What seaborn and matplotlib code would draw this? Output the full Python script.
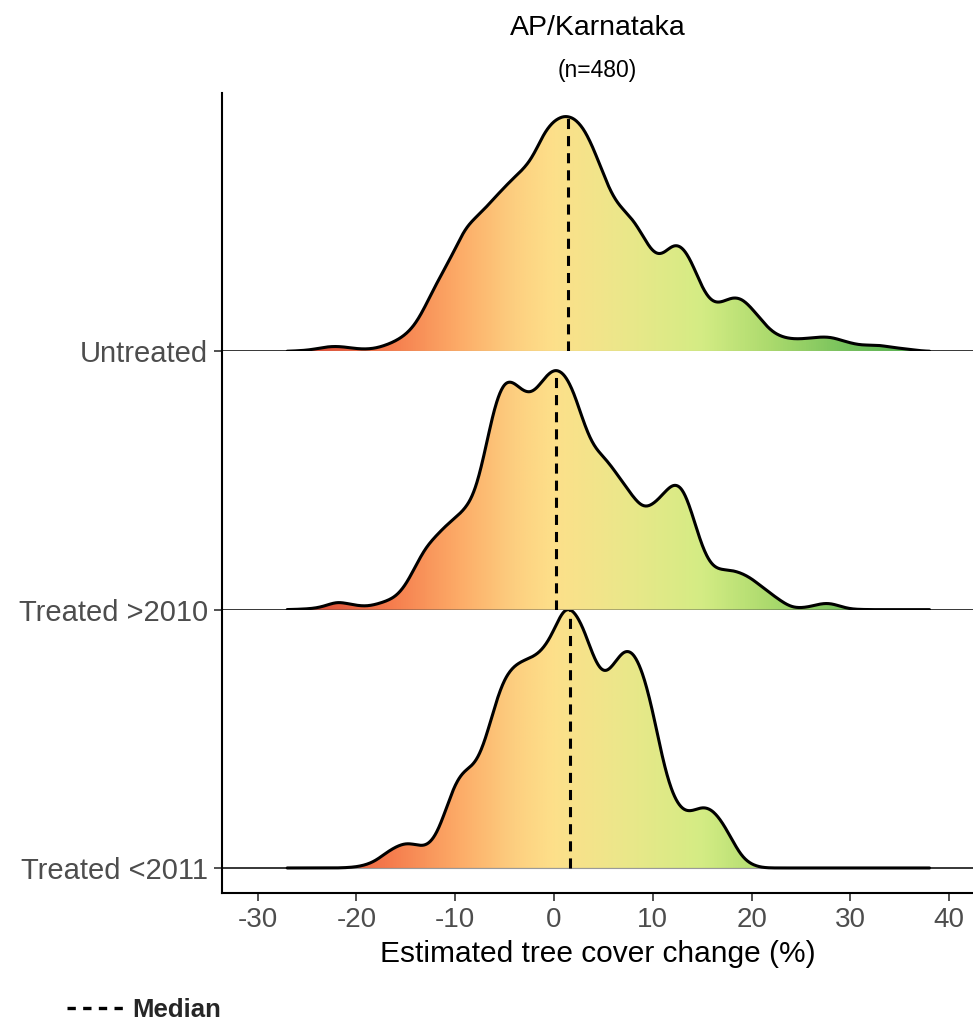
import numpy as np
import pandas as pd
import matplotlib
matplotlib.use("Agg")
import matplotlib.pyplot as plt
import seaborn as sns
from matplotlib.colors import LinearSegmentedColormap, Normalize
from matplotlib.lines import Line2D

# ---------------- data ----------------
title = "AP/Karnataka"
subtitle = "(n=480)"
x_label = "Estimated tree cover change (%)"
legend_label = "Median"

groups = ["Untreated", "Treated >2010", "Treated <2011"]

# x positions (%) at which the ridge heights were read
change_grid = list(range(-27, 39))

# relative density heights read at each x of change_grid
untreated = [
    0, 0.5, 1, 2.5, 4.5, 5, 4, 2.5, 2, 3, 6,
    10, 16, 26, 44, 64, 81, 99, 120, 129, 138, 149,
    159, 169, 177, 190, 213, 224, 229, 227, 217, 197, 171,
    148, 137, 128, 112, 94, 92, 105, 103, 86, 60, 46,
    47, 53, 52, 42, 30, 19, 14, 12, 12, 13, 14,
    14, 11, 8, 6, 6, 6, 4, 3, 2, 0.5, 0,
]
treated_after_2010 = [
    0, 0.3, 0.7, 1.5, 4, 8, 6, 4, 3, 5, 8,
    12, 23, 42, 60, 70, 80, 88, 96, 110, 150, 198,
    222, 218, 207, 207, 222, 232, 228, 210, 178, 155, 147,
    135, 121, 108, 96, 100, 110, 122, 120, 92, 58, 40,
    38, 38, 35, 30, 22, 15, 8, 2, 1.5, 3, 6,
    6.5, 3, 0.5, 0.2, 0, 0, 0, 0, 0, 0, 0,
]
treated_before_2011 = [
    0, 0, 0, 0, 0, 0, 0.3, 1, 3, 7, 15,
    21, 25, 23, 20, 29, 55, 85, 97, 100, 122, 160,
    188, 199, 204, 207, 215, 232, 258, 254, 236, 205, 187,
    198, 215, 214, 193, 155, 104, 70, 55, 55, 61, 58,
    46, 28, 10, 3, 0.3, 0, 0, 0, 0, 0, 0,
    0, 0, 0, 0, 0, 0, 0, 0, 0, 0, 0,
]
medians = [1.4, 0.2, 1.6]
x_ticks = [-30, -20, -10, 0, 10, 20, 30, 40]

densities = [untreated, treated_after_2010, treated_before_2011]

# ---------------- style ----------------
sns.set_theme(style="white")
plt.rcParams["font.family"] = ["Liberation Sans", "DejaVu Sans"]

W, H = 973, 1027
fig = plt.figure(figsize=(W / 100, H / 100), dpi=100)
pad_frac = 25 / 258
gs = fig.add_gridspec(
    3, 1, height_ratios=[1, 1, 1 + pad_frac], hspace=0,
    left=222 / W, right=1.0, top=1 - 93 / H, bottom=1 - 893 / H,
)
axes = [fig.add_subplot(gs[i, 0]) for i in range(3)]

grad_colors = [
    (-25, "#dc4a35"), (-17, "#f57a4c"), (-10, "#fca966"), (-4, "#fdcf80"),
    (0, "#fde08a"), (7, "#ebe78a"), (15, "#d4ec84"), (22, "#abda6d"),
    (30, "#74c15b"), (36, "#58b451"),
]
lo, hi = grad_colors[0][0], grad_colors[-1][0]
cmap = LinearSegmentedColormap.from_list(
    "ridge", [((v - lo) / (hi - lo), c) for v, c in grad_colors]
)
norm = Normalize(lo, hi)

curves = []
for ax, name, dens in zip(axes, groups, densities):
    df = pd.DataFrame({"change": change_grid, "density": dens})
    w = df["density"].to_numpy(float)
    xv = df["change"].to_numpy(float)
    mu = np.sum(w * xv) / w.sum()
    sd = np.sqrt(np.sum(w * (xv - mu) ** 2) / w.sum())
    sns.kdeplot(
        data=df, x="change", weights="density", bw_method=0.7 / sd,
        cut=0, gridsize=1200, color="black", linewidth=2.2, ax=ax, zorder=5,
    )
    xs, ys = ax.lines[-1].get_data()
    curves.append((np.asarray(xs), np.asarray(ys)))

ymax = max(c[1].max() for c in curves)

for i, (ax, name, med, (xs, ys)) in enumerate(zip(axes, groups, medians, curves)):
    # gradient fill clipped to the density area
    poly = ax.fill_between(xs, 0, ys, facecolor="none", edgecolor="none")
    grad = np.linspace(xs.min(), xs.max(), 800).reshape(1, -1)
    im = ax.imshow(
        grad, extent=[xs.min(), xs.max(), 0, ys.max()], origin="lower",
        cmap=cmap, norm=norm, aspect="auto", zorder=2, interpolation="bilinear",
    )
    im.set_clip_path(poly.get_paths()[0], transform=ax.transData)
    # baseline (grid line) and light edge under the fill
    ax.axhline(0, color="black", lw=1.1, zorder=1)
    ax.plot([xs.min(), xs.max()], [0, 0], color="#9a9a9a", lw=0.8, zorder=3)
    # median
    ax.vlines(med, 0, np.interp(med, xs, ys), colors="black", lw=2.2,
              linestyles=(0, (3.3, 2.3)), zorder=6)

    ax.set_xlim(-33.6, 42.4)
    bottom = -ymax * pad_frac if i == 2 else 0
    ax.set_ylim(bottom, ymax)
    ax.set_yticks([0])
    ax.set_yticklabels([name])
    ax.set_ylabel("")
    ax.set_xlabel("")
    for s in ["top", "right"]:
        ax.spines[s].set_visible(False)
    ax.spines["left"].set_color("black")
    ax.spines["left"].set_linewidth(1.5)
    ax.tick_params(axis="y", left=True, length=6, width=1.2, color="#333333",
                   labelsize=21, labelcolor="#4d4d4d", pad=4)
    if i < 2:
        ax.spines["bottom"].set_visible(False)
        ax.tick_params(axis="x", bottom=False, labelbottom=False)
    else:
        ax.spines["bottom"].set_color("black")
        ax.spines["bottom"].set_linewidth(1.5)
        ax.set_xticks(x_ticks)
        ax.set_xticklabels([str(t) for t in x_ticks])
        ax.tick_params(axis="x", bottom=True, length=6, width=1.2, color="#333333",
                       labelsize=20, labelcolor="#4d4d4d", pad=4)
        ax.set_xlabel(x_label, fontsize=21.5, color="black", labelpad=5)

cx = (222 + W) / 2 / W
fig.text(cx, 1 - 28 / H, title, ha="center", va="center", fontsize=20.5, color="black")
fig.text(cx, 1 - 70 / H, subtitle, ha="center", va="center", fontsize=16.5, color="black")

handle = Line2D([0], [0], color="black", lw=2.4, ls=(0, (2.5, 2.2)))
fig.legend(
    handles=[handle], labels=[legend_label], loc="center left",
    bbox_to_anchor=(67 / W, 1 - 1010 / H), frameon=False, borderpad=0,
    borderaxespad=0, handlelength=2.25, handletextpad=0.3,
    prop={"weight": "bold", "size": 18.5},
)

fig.savefig("out.png", dpi=100)
